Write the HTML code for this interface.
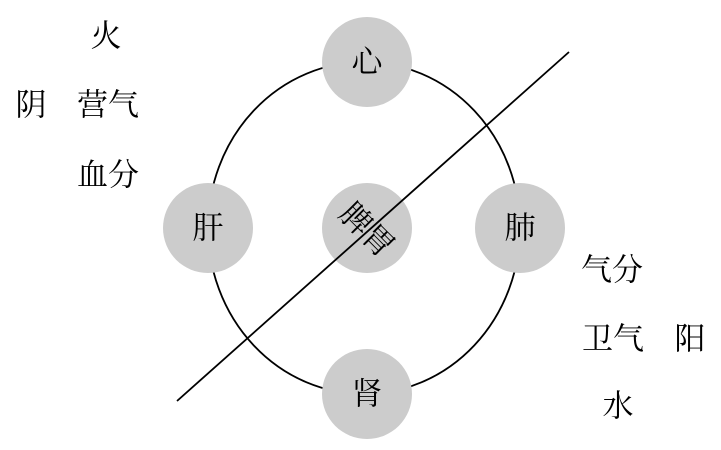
<!DOCTYPE html>
<html><head><meta charset="utf-8"><style>html,body{margin:0;padding:0;background:#fff}svg{display:block}</style></head>
<body>
<svg width="721" height="450" viewBox="0 0 721 450" xmlns="http://www.w3.org/2000/svg" font-family="'Liberation Serif','Noto Serif CJK SC',serif" font-size="31" fill="#000">
<ellipse cx="364" cy="228" rx="156" ry="166" fill="none" stroke="#000" stroke-width="1.8"/>
<g fill="#cccccc">
<circle cx="367" cy="62" r="45"/>
<circle cx="208" cy="228" r="45"/>
<circle cx="520" cy="228" r="45"/>
<circle cx="367" cy="394" r="45"/>
<circle cx="367" cy="228" r="45"/>
</g>
<line x1="177" y1="401" x2="569" y2="52" stroke="#000" stroke-width="1.8"/>
<g text-anchor="middle" dominant-baseline="central">
<text x="367" y="62">心</text>
<text x="208" y="228">肝</text>
<text x="520" y="228">肺</text>
<text x="367" y="394">肾</text>
<text x="367" y="230" transform="rotate(45 367 230)">脾胃</text>
<text x="106" y="36">火</text>
<text x="31" y="105">阴</text>
<text x="108" y="105">营气</text>
<text x="108" y="175">血分</text>
<text x="612" y="270">气分</text>
<text x="613" y="339">卫气</text>
<text x="690" y="339">阳</text>
<text x="618" y="406">水</text>
</g>
</svg>
</body></html>
